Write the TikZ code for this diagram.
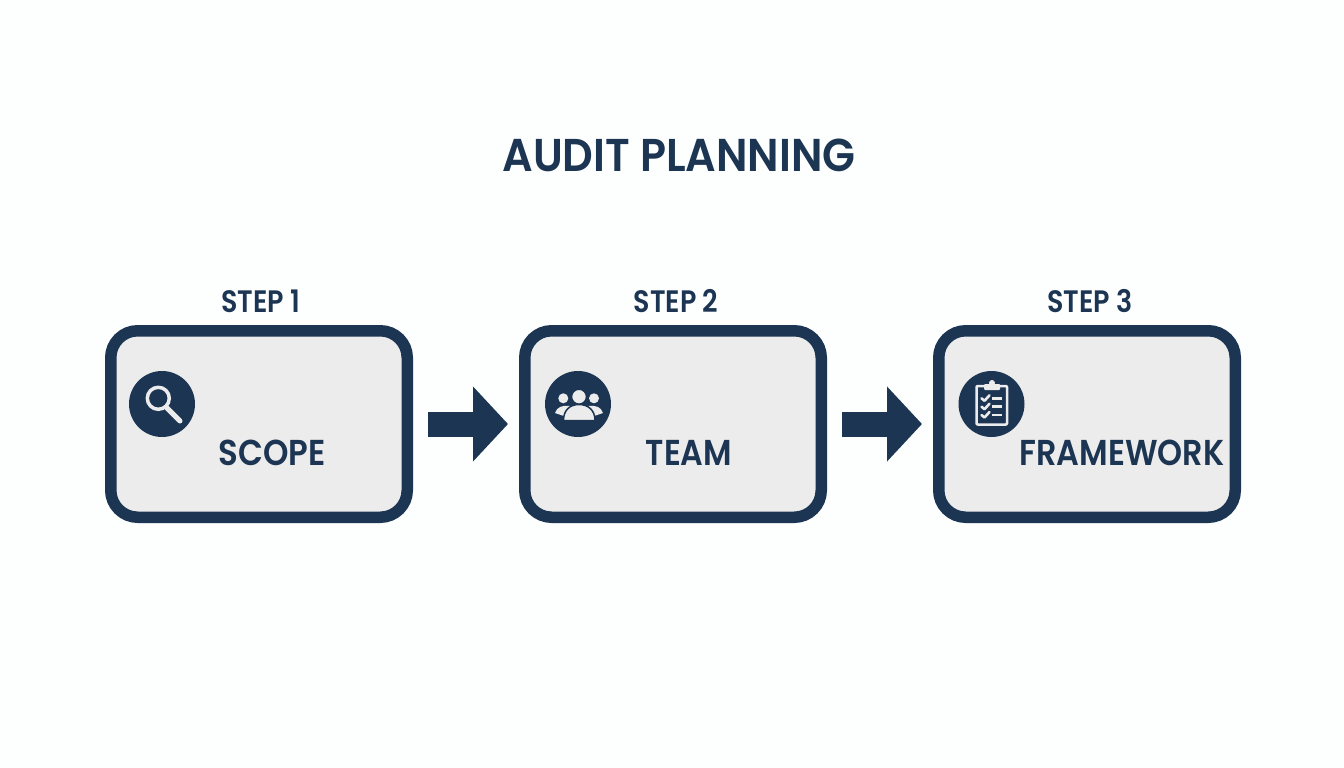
\documentclass[tikz,border=0pt]{standalone}
\usepackage{graphicx}
\usepackage{fontspec}
\setmainfont{Poppins SemiBold}
\usetikzlibrary{arrows.meta,calc}
\definecolor{navy}{HTML}{1C3553}
\definecolor{panel}{HTML}{ECECEC}
\definecolor{paper}{HTML}{FDFEFE}
\newcommand{\squeezed}[2]{\scalebox{#1}[1]{#2}}
\tikzset{
  x=1pt,y=-1pt,
  card/.style={draw=navy,fill=panel,line width=11.5pt,rounded corners=27pt,minimum width=296.5pt,minimum height=186.5pt,inner sep=0pt},
  flow/.style={draw=navy,line width=25pt,shorten <=15pt,shorten >=11pt,-{Triangle[length=35pt,width=73pt,fill=navy]}},
  badge/.style={circle,fill=navy,minimum size=66pt,inner sep=0pt},
  heading/.style={text=navy,font=\fontsize{46}{46}\selectfont,inner sep=0pt},
  steplabel/.style={text=navy,font=\fontsize{31}{31}\selectfont,inner sep=0pt},
  cardlabel/.style={text=navy,font=\fontsize{36}{36}\selectfont,inner sep=0pt},
  glyph/.style={draw=panel,line width=3.5pt,line cap=round,line join=round},
  glyphfill/.style={fill=panel,draw=none}
}
\begin{document}
\begin{tikzpicture}
\useasboundingbox[fill=paper] (0,0) rectangle (1344,768);
\node[heading] (title) at (679,155) {\squeezed{.93}{AUDIT PLANNING}};
\node[card] (c1) at (259,424) {};
\node[card] (c2) at (673,424) {};
\node[card] (c3) at (1087,424) {};
\node[steplabel] (s1) at (261,301) {\squeezed{.87}{STEP 1}};
\node[steplabel] (s2) at (676,301) {\squeezed{.87}{STEP 2}};
\node[steplabel] (s3) at (1090,301) {\squeezed{.87}{STEP 3}};
\node[cardlabel] (l1) at (272,453) {\squeezed{.9}{SCOPE}};
\node[cardlabel] (l2) at (689,453) {\squeezed{.88}{TEAM}};
\node[cardlabel] (l3) at (1122,453) {\squeezed{.885}{FRAMEWORK}};
\draw[flow] (c1) -- (c2);
\draw[flow] (c2) -- (c3);
\node[badge] (b1) at (162,404) {};
\node[badge] (b2) at (578,404) {};
\node[badge] (b3) at (991.5,404) {};
% magnifier
\draw[glyph] ($(b1.center)+(-3.7,-5.7)$) circle (11);
\draw[glyph,line width=5pt] ($(b1.center)+(5,4)$) -- ($(b1.center)+(18,17)$);
% team
\fill[glyphfill] ($(b2.center)+(-14.7,-5.7)$) circle (5);
\fill[glyphfill] ($(b2.center)+(16,-5.7)$) circle (5);
\fill[glyphfill] ($(b2.center)+(-23,9)$) .. controls ($(b2.center)+(-21,3)$) and ($(b2.center)+(-16,1)$) .. ($(b2.center)+(-8,2)$) -- ($(b2.center)+(-14,12)$) -- cycle;
\fill[glyphfill] ($(b2.center)+(25,9)$) .. controls ($(b2.center)+(23,3)$) and ($(b2.center)+(18,1)$) .. ($(b2.center)+(10,2)$) -- ($(b2.center)+(16,12)$) -- cycle;
\draw[fill=panel,draw=navy,line width=1.5pt] ($(b2.center)+(1,-7.3)$) circle (7.5);
\draw[fill=panel,draw=navy,line width=1.5pt] ($(b2.center)+(-14.5,16.5)$) .. controls ($(b2.center)+(-14.5,6)$) and ($(b2.center)+(-8,0.5)$) .. ($(b2.center)+(1,0.5)$) .. controls ($(b2.center)+(10,0.5)$) and ($(b2.center)+(17,6)$) .. ($(b2.center)+(17,16.5)$) -- cycle;
% clipboard
\draw[glyph,line width=2.5pt,line cap=butt,rounded corners=1pt] ($(b3.center)+(-15,-18)$) rectangle ($(b3.center)+(15.5,20.5)$);
\fill[glyphfill,rounded corners=1pt] ($(b3.center)+(-7.5,-20)$) rectangle ($(b3.center)+(8.5,-14)$);
\fill[glyphfill] ($(b3.center)+(0.5,-21)$) circle (3);
\foreach \yy in {-5.7,2.7,11}{
  \draw[glyph,line width=2.6pt] ($(b3.center)+(-10,\yy)$) -- ($(b3.center)+(-7,\yy+2.5)$) -- ($(b3.center)+(-2,\yy-3)$);
  \draw[glyph,line width=2.6pt,line cap=butt] ($(b3.center)+(0,\yy)$) -- ($(b3.center)+(10,\yy)$);
}
\end{tikzpicture}
\end{document}
